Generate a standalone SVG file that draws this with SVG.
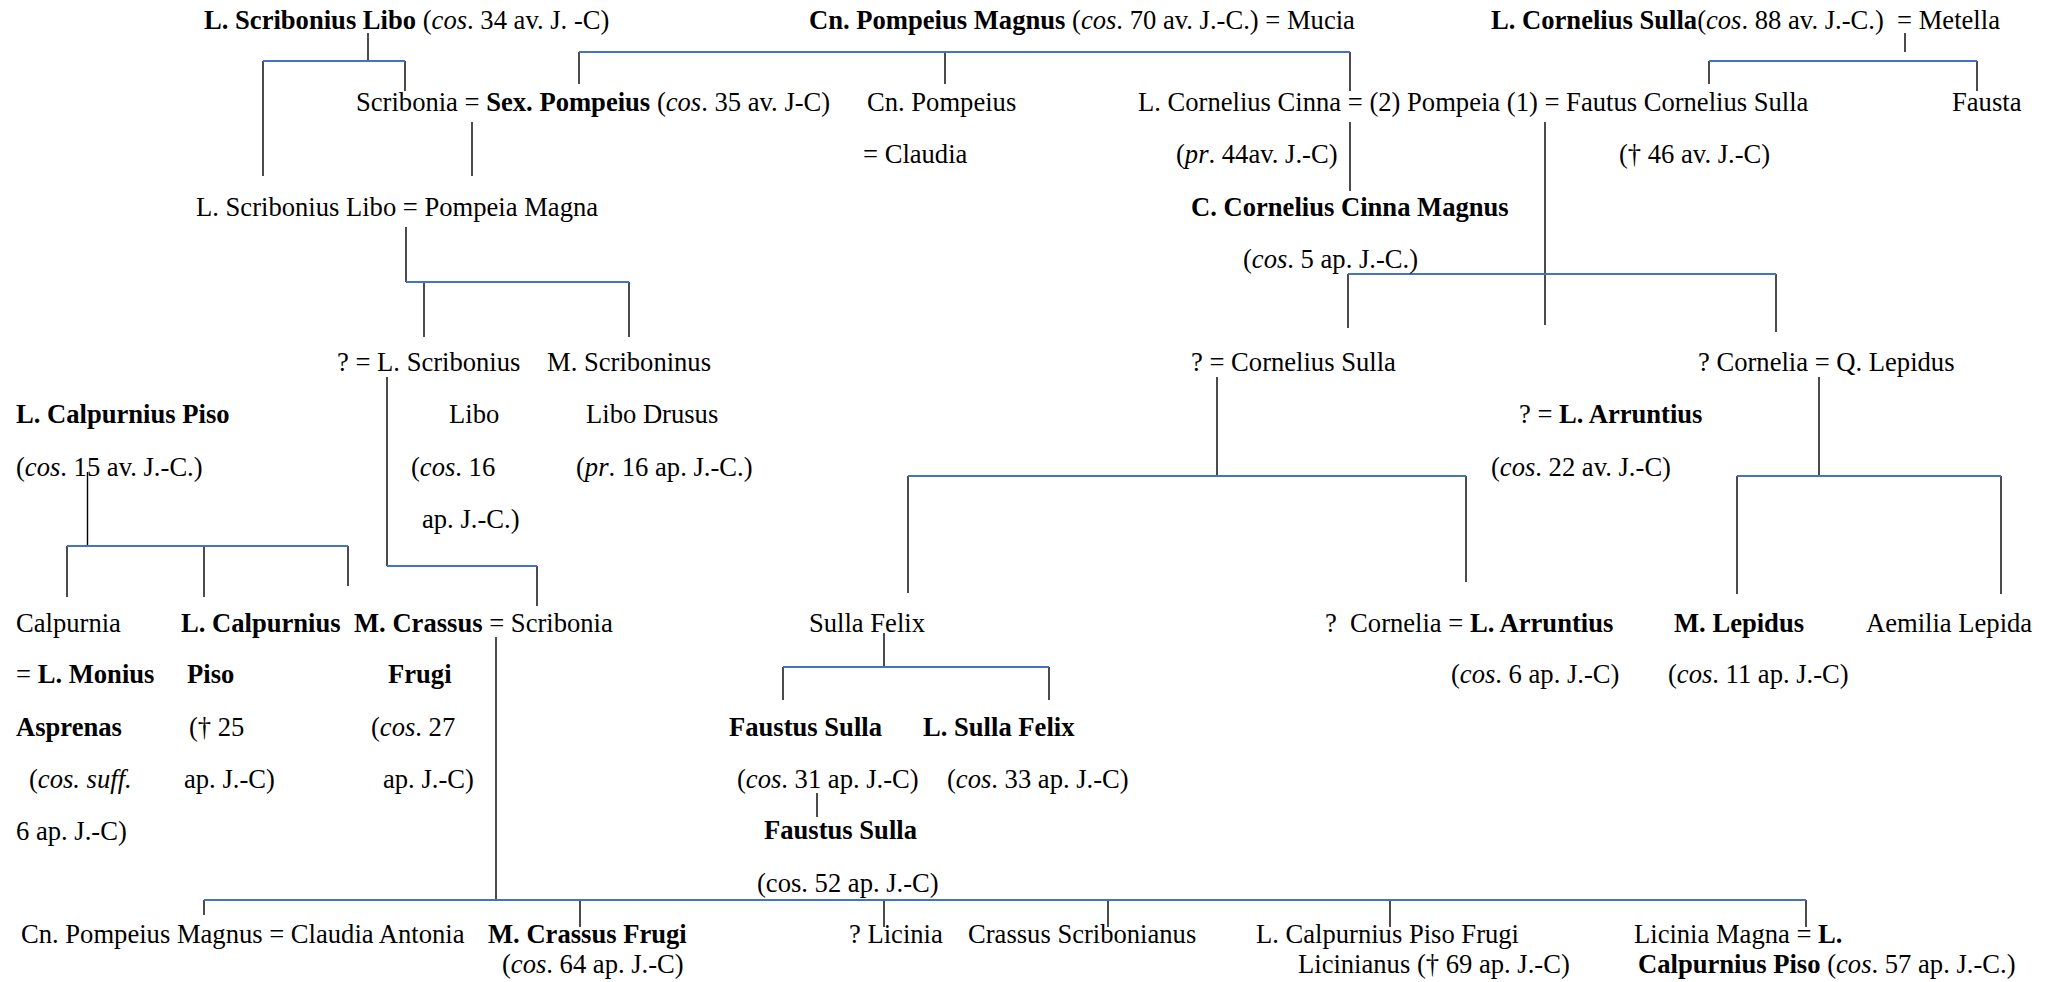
<svg xmlns="http://www.w3.org/2000/svg" width="2054" height="982" viewBox="0 0 2054 982">
<style>
text{font-family:"Liberation Serif","Times New Roman",serif;font-size:26.6px;fill:#000;white-space:pre}
.b{font-weight:bold}
.i{font-style:italic}
.v{stroke:#000;stroke-width:1.4;fill:none}
.h{stroke:#4472C4;stroke-width:2;fill:none}
</style>
<rect width="2054" height="982" fill="#fff"/>
<g id="connectors">
<g class="v">
<path d="M368 33V61M263 61V176M405 61V91M472 122V176M579 52V84M945 52V84M1350 52V91M1350 122V191M1905 33V52M1709 61V84M1977 61V91M1545 122V325"/>
<path d="M406 227V282M424 282V337M629 282V337M1348 274V328M1776 274V332"/>
<path d="M387 377V566M537 566V606M1217 377V476M908 476V593M1466 476V582M1819 377V476M1737 476V594M2001 476V594"/>
<path d="M87.5 472V546M67 546V597M204 546V597M348 546V586M496 637V900"/>
<path d="M884 633V667M783 667V700M1049 667V700M817 793V817"/>
<path d="M204 900V915M580 900V927M884 900V927M1108 900V927M1390 900V927M1806 900V927"/>
</g>
<g class="h">
<path d="M263 61H405M579 52H1350M1709 61H1977M406 282H629M1348 274H1776M387 566H537M908 476H1466M1737 476H2001M67 546H348M783 667H1049M204 900H1806"/>
</g>
</g>
<g id="n-scribonius-libo"><text x="204" y="29"><tspan class="b">L. Scribonius Libo</tspan> (<tspan class="i">cos</tspan>. 34 av. J. -C)</text></g>
<g id="n-pompeius-magnus"><text x="809" y="29"><tspan class="b">Cn. Pompeius Magnus</tspan> (<tspan class="i">cos</tspan>. 70 av. J.-C.) = Mucia</text></g>
<g id="n-sulla"><text x="1491" y="29"><tspan class="b">L. Cornelius Sulla</tspan>(<tspan class="i">cos</tspan>. 88 av. J.-C.)  = Metella</text></g>
<g id="n-sex-pompeius"><text x="356" y="111">Scribonia = <tspan class="b">Sex. Pompeius</tspan> (<tspan class="i">cos</tspan>. 35 av. J-C)</text></g>
<g id="n-cn-pompeius"><text x="867" y="111">Cn. Pompeius</text><text x="863" y="163">= Claudia</text></g>
<g id="n-cinna-pompeia-faustus"><text x="1138" y="111">L. Cornelius Cinna = (2) Pompeia (1) = Fautus Cornelius Sulla</text><text x="1176" y="163">(<tspan class="i">pr</tspan>. 44av. J.-C)</text><text x="1619" y="163">(† 46 av. J.-C)</text></g>
<g id="n-fausta"><text x="1952" y="111">Fausta</text></g>
<g id="n-libo-pompeia-magna"><text x="196" y="216">L. Scribonius Libo = Pompeia Magna</text></g>
<g id="n-cinna-magnus"><text x="1191" y="216" class="b">C. Cornelius Cinna Magnus</text><text x="1243" y="268">(<tspan class="i">cos</tspan>. 5 ap. J.-C.)</text></g>
<g id="n-l-scribonius-libo-16"><text x="337" y="371">? = L. Scribonius</text><text x="449" y="423">Libo</text><text x="411" y="476">(<tspan class="i">cos</tspan>. 16</text><text x="422" y="528">ap. J.-C.)</text></g>
<g id="n-libo-drusus"><text x="547" y="371">M. Scriboninus</text><text x="586" y="423">Libo Drusus</text><text x="576" y="476">(<tspan class="i">pr</tspan>. 16 ap. J.-C.)</text></g>
<g id="n-cornelius-sulla"><text x="1191" y="371">? = Cornelius Sulla</text></g>
<g id="n-cornelia-lepidus"><text x="1698" y="371">? Cornelia = Q. Lepidus</text></g>
<g id="n-calpurnius-piso-15"><text x="16" y="423" class="b">L. Calpurnius Piso</text><text x="16" y="476">(<tspan class="i">cos</tspan>. 15 av. J.-C.)</text></g>
<g id="n-arruntius-22"><text x="1519" y="423">? = <tspan class="b">L. Arruntius</tspan></text><text x="1491" y="476">(<tspan class="i">cos</tspan>. 22 av. J.-C)</text></g>
<g id="n-calpurnia"><text x="16" y="632">Calpurnia</text><text x="16" y="683">= <tspan class="b">L. Monius</tspan></text><text x="16" y="736" class="b">Asprenas</text><text x="29" y="788">(<tspan class="i">cos. suff.</tspan></text><text x="16" y="840">6 ap. J.-C)</text></g>
<g id="n-calpurnius-piso-25"><text x="181" y="632" class="b">L. Calpurnius</text><text x="187" y="683" class="b">Piso</text><text x="189" y="736">(† 25</text><text x="184" y="788">ap. J.-C)</text></g>
<g id="n-crassus-frugi-27"><text x="354" y="632"><tspan class="b">M. Crassus</tspan> = Scribonia</text><text x="388" y="683" class="b">Frugi</text><text x="371" y="736">(<tspan class="i">cos</tspan>. 27</text><text x="383" y="788">ap. J.-C)</text></g>
<g id="n-sulla-felix"><text x="809" y="632">Sulla Felix</text></g>
<g id="n-cornelia-arruntius"><text x="1325" y="632">?  Cornelia = <tspan class="b">L. Arruntius</tspan></text><text x="1451" y="683">(<tspan class="i">cos</tspan>. 6 ap. J.-C)</text></g>
<g id="n-m-lepidus"><text x="1674" y="632" class="b">M. Lepidus</text><text x="1668" y="683">(<tspan class="i">cos</tspan>. 11 ap. J.-C)</text></g>
<g id="n-aemilia-lepida"><text x="1866" y="632">Aemilia Lepida</text></g>
<g id="n-faustus-sulla-31"><text x="729" y="736" class="b">Faustus Sulla</text><text x="737" y="788">(<tspan class="i">cos</tspan>. 31 ap. J.-C)</text></g>
<g id="n-sulla-felix-33"><text x="923" y="736" class="b">L. Sulla Felix</text><text x="947" y="788">(<tspan class="i">cos</tspan>. 33 ap. J.-C)</text></g>
<g id="n-faustus-sulla-52"><text x="764" y="839" class="b">Faustus Sulla</text><text x="757" y="892">(cos. 52 ap. J.-C)</text></g>
<g id="n-pompeius-claudia-antonia"><text x="21" y="943">Cn. Pompeius Magnus = Claudia Antonia</text></g>
<g id="n-crassus-frugi-64"><text x="488" y="943" class="b">M. Crassus Frugi</text><text x="502" y="973">(<tspan class="i">cos</tspan>. 64 ap. J.-C)</text></g>
<g id="n-licinia"><text x="849" y="943">? Licinia</text></g>
<g id="n-crassus-scribonianus"><text x="968" y="943">Crassus Scribonianus</text></g>
<g id="n-piso-licinianus"><text x="1256" y="943">L. Calpurnius Piso Frugi</text><text x="1298" y="973">Licinianus († 69 ap. J.-C)</text></g>
<g id="n-licinia-magna"><text x="1634" y="943">Licinia Magna = <tspan class="b">L.</tspan></text><text x="1638" y="973"><tspan class="b">Calpurnius Piso</tspan> (<tspan class="i">cos</tspan>. 57 ap. J.-C.)</text></g>
</svg>
